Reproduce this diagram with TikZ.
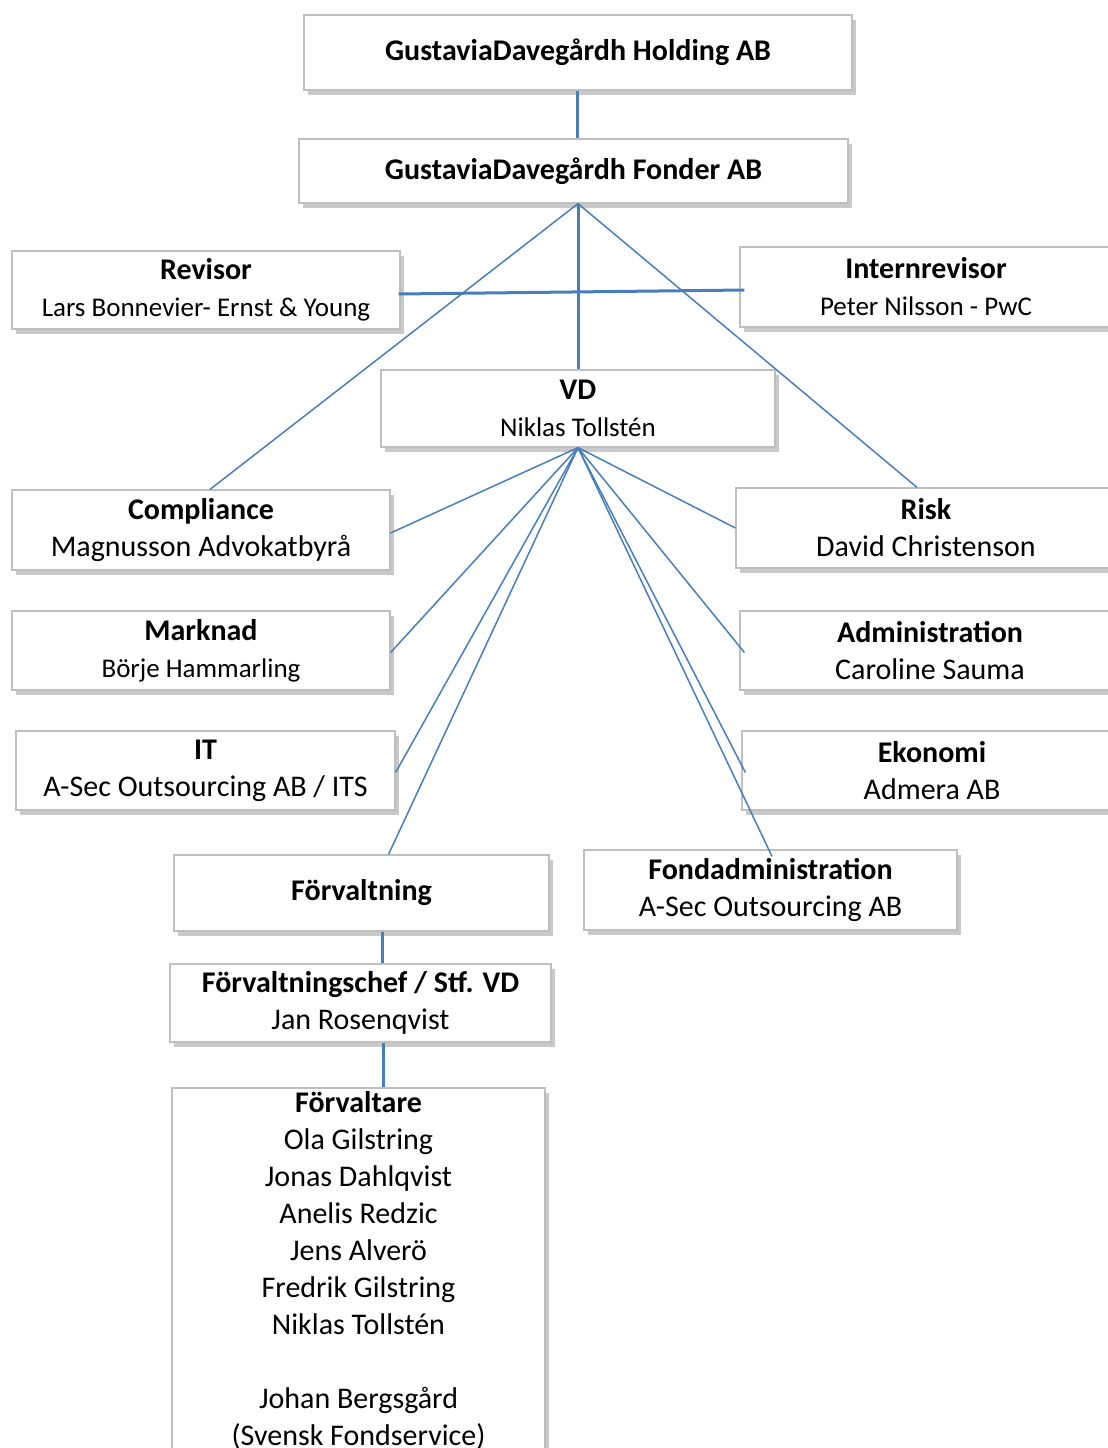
\documentclass[tikz,border=0pt]{standalone}
\usepackage{fontspec}
\setmainfont{Carlito}
\usetikzlibrary{shadows,calc}
\newcommand{\boxtitle}[1]{{\fontsize{30}{37}\selectfont\bfseries #1}}

\begin{document}
\begin{tikzpicture}[x=1pt,y=1pt,yscale=-1,xscale=1,
  orgbox/.style={draw={rgb,255:red,191;green,191;blue,191},line width=1.2pt,fill=white,
    drop shadow={shadow xshift=4pt,shadow yshift=-5pt,opacity=.3,fill=black!70},
    align=center,inner sep=0pt,font=\fontsize{27}{37}\selectfont},
  orgwide/.style={orgbox,font=\fontsize{30}{37}\selectfont},
  mainlink/.style={draw={rgb,255:red,74;green,126;blue,187},line width=3pt},
  sublink/.style={draw={rgb,255:red,74;green,126;blue,187},line width=1.5pt}]
\clip (0,0) rectangle (1108,1448);

% Top of the chart
\node [orgbox,minimum width=548pt,minimum height=75pt] (holding) at (578,52.5) {\boxtitle{GustaviaDavegårdh Holding AB}};
\node [orgbox,minimum width=549pt,minimum height=64pt] (fonder) at (573.5,171) {\boxtitle{GustaviaDavegårdh Fonder AB}};
\node [orgbox,minimum width=388pt,minimum height=78pt] (rev) at (206,290) {\boxtitle{Revisor}\\Lars Bonnevier- Ernst \& Young};
\node [orgbox,minimum width=372pt,minimum height=80pt] (intrev) at (926,287) {\boxtitle{Internrevisor}\\Peter Nilsson - PwC};
\node [orgbox,minimum width=394pt,minimum height=77pt] (vd) at (578,408.5) {\boxtitle{VD}\\Niklas Tollstén};

% Functions under VD
\node [orgwide,minimum width=378pt,minimum height=80pt] (comp) at (201,530) {\boxtitle{Compliance}\\Magnusson Advokatbyrå};
\node [orgwide,minimum width=380pt,minimum height=80pt] (risk) at (926,528) {\boxtitle{Risk}\\David Christenson};
\node [orgbox,minimum width=378pt,minimum height=79pt] (mark) at (201,650.5) {\boxtitle{Marknad}\\Börje Hammarling};
\node [orgwide,minimum width=380pt,minimum height=79pt] (admin) at (930,650.5) {\boxtitle{Administration}\\Caroline Sauma};
\node [orgwide,minimum width=379pt,minimum height=79pt] (it) at (205.5,770.5) {\boxtitle{IT}\\A-Sec Outsourcing AB / ITS};
\node [orgwide,minimum width=380pt,minimum height=79pt] (eko) at (932,770.5) {\boxtitle{Ekonomi}\\Admera AB};
\node [orgbox,minimum width=375pt,minimum height=76pt] (forv) at (361.5,893) {\boxtitle{Förvaltning}};
\node [orgwide,minimum width=373pt,minimum height=80pt] (fadm) at (770.5,890) {\boxtitle{Fondadministration}\\A-Sec Outsourcing AB};

% Management
\node [orgwide,minimum width=381pt,minimum height=78pt] (chef) at (360.5,1003) {\boxtitle{Förvaltningschef / Stf. VD}\\Jan Rosenqvist};
\node [orgwide,minimum width=373pt,minimum height=365pt] (forvtr) at (358.5,1270.5) {\boxtitle{Förvaltare}\\Ola Gilstring\\Jonas Dahlqvist\\Anelis Redzic\\Jens Alverö\\Fredrik Gilstring\\Niklas Tollstén\\[37pt]Johan Bergsgård\\(Svensk Fondservice)};

\coordinate (fonderfoot) at ([xshift=4.5pt]fonder.south);

% Connectors
\draw [mainlink] ([xshift=-1pt]holding.south) -- ([xshift=3.5pt]fonder.north);
\draw [mainlink] (fonderfoot) -- (vd.north);
\draw [mainlink] ($(rev.east)+(-2,4)$) -- ($(intrev.west)+(5,3)$);
\draw [sublink] (fonderfoot) -- ([xshift=9pt]comp.north);
\draw [sublink] (fonderfoot) -- ([xshift=-9pt]risk.north);

\draw [sublink] (vd.south) -- ($(comp.east)+(0,3)$);
\draw [sublink] (vd.south) -- ($(mark.east)+(0,2)$);
\draw [sublink] (vd.south) -- ($(it.east)+(0,2)$);
\draw [sublink] (vd.south) -- ([xshift=27pt]forv.north);
\draw [sublink] (vd.south) -- (risk.west);
\draw [sublink] (vd.south) -- ($(admin.west)+(5,2)$);
\draw [sublink] (vd.south) -- ($(eko.west)+(4,2)$);
\draw [sublink] (vd.south) -- ($(fadm.north)+(1.5,7)$);

\draw [mainlink] ([xshift=20.5pt]forv.south) -- ([xshift=21.5pt]chef.north);
\draw [mainlink] ([xshift=22.5pt]chef.south) -- ([xshift=24.5pt]forvtr.north);

\end{tikzpicture}
\end{document}
